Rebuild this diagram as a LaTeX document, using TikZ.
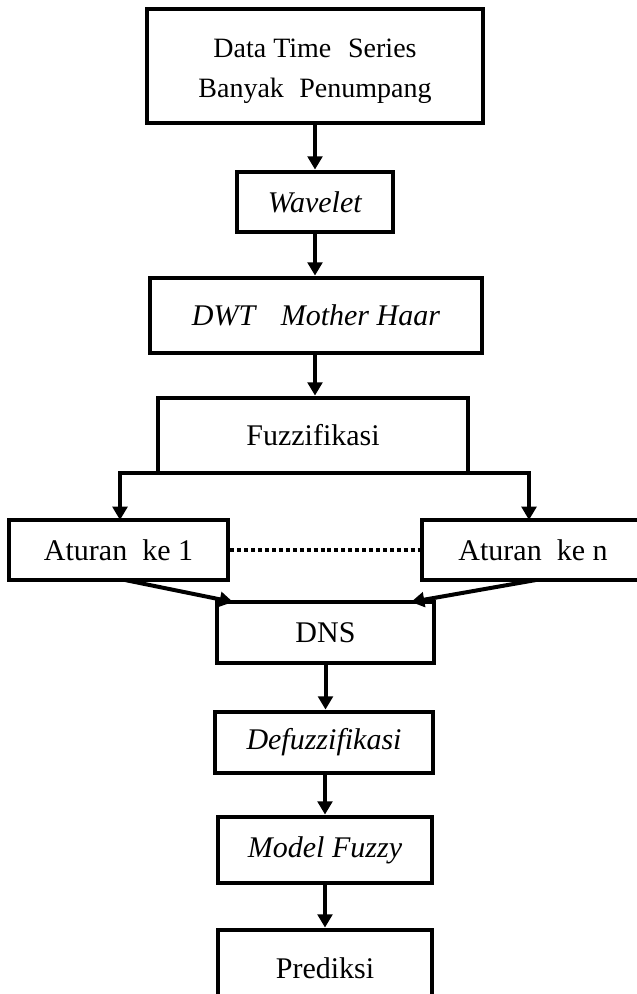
\documentclass[tikz,border=0pt]{standalone}
\usepackage{fontspec}
\setmainfont{Liberation Serif}
\usetikzlibrary{arrows.meta}
\begin{document}
\begin{tikzpicture}[x=0.75pt,y=-0.75pt,
  box/.style={draw=black,line width=3.6pt,rectangle,inner sep=0pt,align=center,
    font=\fontsize{22.5pt}{30pt}\selectfont},
  txt/.style={inner sep=0pt,align=center,font=\fontsize{21pt}{30pt}\selectfont},
  arr/.style={draw=black,line width=3pt,-{Triangle[length=10pt,width=11pt]}},
  plain/.style={draw=black,line width=3pt},
  dots/.style={draw=black,line width=3.2pt,dash pattern=on 3pt off 2.2pt}]
\useasboundingbox (0,0) rectangle (636,994);
\node[box,minimum width=336*0.75pt,minimum height=114*0.75pt] (data) at (315,66) {};
\node[txt] (datat) at (315,71) {Data Time\hspace{0.35em} Series\\Banyak\hspace{0.3em} Penumpang};
\node[box,minimum width=156*0.75pt,minimum height=60*0.75pt] (wav) at (315,202) {\textit{Wavelet}};
\node[box,minimum width=332*0.75pt,minimum height=75*0.75pt] (dwt) at (316,315.5) {\textit{DWT\hspace{0.6em} Mother Haar}};
\node[box,minimum width=310*0.75pt,minimum height=75*0.75pt] (fuz) at (313,435.5) {Fuzzifikasi};
\node[box,minimum width=219*0.75pt,minimum height=60*0.75pt] (a1) at (118.5,550) {Aturan\hspace{0.25em} ke 1};
\node[box,minimum width=222*0.75pt,minimum height=60*0.75pt] (an) at (533,550) {Aturan\hspace{0.25em} ke n};
\node[box,minimum width=217*0.75pt,minimum height=61*0.75pt] (dns) at (325.5,632.5) {DNS};
\node[box,minimum width=218*0.75pt,minimum height=61*0.75pt] (def) at (324,742.5) {\textit{Defuzzifikasi}};
\node[box,minimum width=214*0.75pt,minimum height=66*0.75pt] (mod) at (325,850) {\textit{Model Fuzzy}};
\node[box,minimum width=214*0.75pt,minimum height=76*0.75pt] (pre) at (325,968) {Prediksi};
% connector anchor coordinates
\coordinate (fb) at (313,473);
\coordinate (a1t) at (120,520);
\coordinate (ant) at (529,520);
\coordinate (a1b) at (125,580);
\coordinate (anb) at (536,580);
\coordinate (dnl) at (233,602);
\coordinate (dnr) at (411,602);
\draw[arr] (data.south) -- (wav.north);
\draw[arr] (wav.south) -- (dwt.north -| wav.south);
\draw[arr] (dwt.south -| wav.south) -- (fuz.north -| wav.south);
\draw[arr] (fb) -| (a1t);
\draw[arr] (fb) -| (ant);
\draw[dots] (a1.east) -- (an.west);
\draw[arr] (a1b) -- (dnl);
\draw[arr] (anb) -- (dnr);
\draw[arr] (dns.south) -- (def.north -| dns.south);
\draw[arr] (def.south -| mod.north) -- (mod.north);
\draw[arr] (mod.south) -- (pre.north);
\end{tikzpicture}
\end{document}
